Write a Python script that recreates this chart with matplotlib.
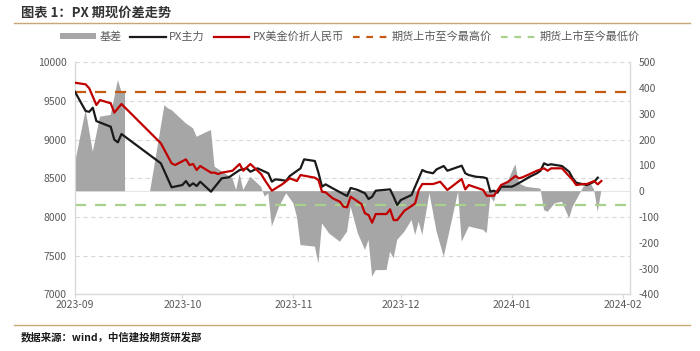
import matplotlib
matplotlib.use("Agg")
import numpy as np
import pandas as pd
import matplotlib.pyplot as plt
import matplotlib.dates as mdates
from matplotlib.lines import Line2D
from matplotlib.patches import Patch

plt.rcParams["font.family"] = ["Noto Sans CJK SC", "DejaVu Sans"]
plt.rcParams["axes.unicode_minus"] = False

# ==================== 数据 ====================
main_dates = ["2023-09-01", "2023-09-04", "2023-09-05", "2023-09-06", "2023-09-07", "2023-09-11",
              "2023-09-12", "2023-09-13", "2023-09-14", "2023-09-25", "2023-09-28", "2023-10-01",
              "2023-10-02", "2023-10-03", "2023-10-04", "2023-10-05", "2023-10-06", "2023-10-09",
              "2023-10-12", "2023-10-14", "2023-10-17", "2023-10-19", "2023-10-20", "2023-10-22",
              "2023-10-25", "2023-10-26", "2023-10-27", "2023-10-30", "2023-10-31", "2023-11-03",
              "2023-11-04", "2023-11-07", "2023-11-08", "2023-11-09", "2023-11-10", "2023-11-12",
              "2023-11-16", "2023-11-17", "2023-11-19", "2023-11-21", "2023-11-22", "2023-11-23",
              "2023-11-24", "2023-11-28", "2023-11-29", "2023-11-30", "2023-12-01", "2023-12-04",
              "2023-12-05", "2023-12-07", "2023-12-08", "2023-12-10", "2023-12-11", "2023-12-13",
              "2023-12-14", "2023-12-18", "2023-12-19", "2023-12-20", "2023-12-22", "2023-12-24",
              "2023-12-25", "2023-12-26", "2023-12-27", "2023-12-28", "2023-12-29", "2024-01-01",
              "2024-01-02", "2024-01-04", "2024-01-06", "2024-01-08", "2024-01-09", "2024-01-10",
              "2024-01-11", "2024-01-12", "2024-01-15", "2024-01-17", "2024-01-18", "2024-01-19",
              "2024-01-21", "2024-01-22", "2024-01-24", "2024-01-25"]
main_px = [9620, 9370, 9360, 9413, 9240, 9167,
           9000, 8965, 9073, 8694, 8384, 8413,
           8465, 8400, 8435, 8400, 8456, 8327,
           8500, 8513, 8607, 8629, 8585, 8629,
           8565, 8456, 8487, 8469, 8530, 8629,
           8745, 8724, 8573, 8392, 8422, 8370,
           8271, 8375, 8349, 8306, 8232, 8262,
           8340, 8357, 8262, 8155, 8219, 8284,
           8392, 8607, 8585, 8565, 8616, 8659,
           8598, 8663, 8565, 8542, 8520, 8513,
           8500, 8327, 8340, 8314, 8392, 8392,
           8413, 8465, 8520, 8565, 8598, 8694,
           8672, 8681, 8659, 8585, 8500, 8443,
           8422, 8413, 8456, 8508]

usd_dates = ["2023-09-01", "2023-09-04", "2023-09-05", "2023-09-07", "2023-09-08", "2023-09-11",
             "2023-09-12", "2023-09-14", "2023-09-25", "2023-09-28", "2023-09-29", "2023-10-02",
             "2023-10-03", "2023-10-04", "2023-10-05", "2023-10-06", "2023-10-09", "2023-10-10",
             "2023-10-11", "2023-10-12", "2023-10-15", "2023-10-17", "2023-10-18", "2023-10-20",
             "2023-10-23", "2023-10-24", "2023-10-26", "2023-10-29", "2023-10-31", "2023-11-02",
             "2023-11-03", "2023-11-07", "2023-11-08", "2023-11-09", "2023-11-10", "2023-11-12",
             "2023-11-14", "2023-11-15", "2023-11-16", "2023-11-17", "2023-11-20", "2023-11-21",
             "2023-11-22", "2023-11-23", "2023-11-24", "2023-11-27", "2023-11-28", "2023-11-29",
             "2023-11-30", "2023-12-02", "2023-12-04", "2023-12-05", "2023-12-06", "2023-12-07",
             "2023-12-10", "2023-12-12", "2023-12-14", "2023-12-18", "2023-12-19", "2023-12-20",
             "2023-12-24", "2023-12-25", "2023-12-27", "2023-12-29", "2023-12-31", "2024-01-02",
             "2024-01-03", "2024-01-04", "2024-01-06", "2024-01-08", "2024-01-10", "2024-01-11",
             "2024-01-12", "2024-01-15", "2024-01-18", "2024-01-19", "2024-01-21", "2024-01-22",
             "2024-01-24", "2024-01-25", "2024-01-26"]
usd_px = [9736, 9715, 9664, 9448, 9512, 9470,
          9349, 9461, 8953, 8694, 8672, 8745,
          8672, 8685, 8607, 8659, 8573, 8573,
          8555, 8573, 8598, 8685, 8598, 8685,
          8555, 8478, 8340, 8426, 8500, 8465,
          8542, 8508, 8478, 8327, 8319, 8241,
          8197, 8133, 8125, 8262, 8168, 8047,
          8025, 7926, 8038, 8038, 8099, 7960,
          7960, 8081, 8142, 8176, 8349, 8426,
          8426, 8456, 8349, 8491, 8357, 8413,
          8349, 8275, 8275, 8413, 8456, 8530,
          8500, 8513, 8555, 8598, 8629, 8598,
          8629, 8629, 8478, 8413, 8426, 8426,
          8465, 8422, 8465]

basis_dates = ["2023-09-01", "2023-09-04", "2023-09-06", "2023-09-08", "2023-09-11", "2023-09-13",
               "2023-09-14", "2023-09-15", "2023-09-18", "2023-09-22", "2023-09-26", "2023-09-27",
               "2023-09-28", "2023-09-29", "2023-09-30", "2023-10-02", "2023-10-04", "2023-10-05",
               "2023-10-06", "2023-10-08", "2023-10-09", "2023-10-10", "2023-10-15", "2023-10-16",
               "2023-10-17", "2023-10-18", "2023-10-20", "2023-10-23", "2023-10-24", "2023-10-25",
               "2023-10-26", "2023-10-28", "2023-10-30", "2023-11-01", "2023-11-02", "2023-11-03",
               "2023-11-07", "2023-11-08", "2023-11-09", "2023-11-11", "2023-11-14", "2023-11-16",
               "2023-11-17", "2023-11-19", "2023-11-21", "2023-11-22", "2023-11-23", "2023-11-24",
               "2023-11-27", "2023-11-28", "2023-11-29", "2023-11-30", "2023-12-02", "2023-12-04",
               "2023-12-05", "2023-12-06", "2023-12-07", "2023-12-09", "2023-12-11", "2023-12-13",
               "2023-12-17", "2023-12-18", "2023-12-20", "2023-12-24", "2023-12-25", "2023-12-26",
               "2023-12-27", "2023-12-28", "2023-12-31", "2024-01-02", "2024-01-03", "2024-01-05",
               "2024-01-09", "2024-01-10", "2024-01-11", "2024-01-13", "2024-01-15", "2024-01-17",
               "2024-01-18", "2024-01-21", "2024-01-23", "2024-01-24", "2024-01-25", "2024-01-26"]
basis = [108, 315, 153, 289, 296, 431,
         386, 380, np.nan, 0, 334, 321,
         315, 302, 289, 263, 244, 211,
         218, 231, 237, 95, 50, 5,
         67, 5, 56, 17, -21, -8,
         -137, -60, -8, -47, -99, -209,
         -215, -280, -125, -164, -196, -157,
         -60, -163, -228, -189, -332, -306,
         -306, -235, -260, -189, -157, -112,
         -170, -118, -170, -8, -157, -254,
         -2, -196, -137, -150, -163, -21,
         -41, 5, 43, 105, 30, 17,
         10, -73, -80, -47, -41, -105,
         -60, 17, 30, 5, -80, 3]

HIGH_PRICE = 9616   # 期货上市至今最高价
LOW_PRICE = 8158    # 期货上市至今最低价

main_dates = pd.to_datetime(main_dates)
usd_dates = pd.to_datetime(usd_dates)
basis_dates = pd.to_datetime(basis_dates)
basis = np.array(basis, dtype=float)

# ==================== 作图 ====================
fig = plt.figure(figsize=(7.0, 3.51), dpi=100)
ax = fig.add_axes([0.107, 0.1615, 0.793, 0.661])   # 左轴：网格+刻度
ax2 = ax.twinx()                                    # 右轴：基差面积
ax3 = ax.twinx()                                    # 左轴刻度的价格线（画在面积上层）
ax.set_zorder(0)
ax2.set_zorder(1)
ax3.set_zorder(2)
ax2.patch.set_visible(False)
ax3.patch.set_visible(False)

GRID_C = "#d9d9d9"
TICK_C = "#595959"

ax.set_ylim(7000, 10000)
ax.set_yticks(range(7000, 10001, 500))
ax.yaxis.grid(True, color=GRID_C, ls=(0, (4, 3)), lw=0.8)
ax.set_axisbelow(True)

# 基差面积（右轴）
ax2.axhline(0, color="#e6e6e6", lw=0.8, zorder=0)
ax2.fill_between(basis_dates, 0, basis, color="#a6a6a6", linewidth=0, zorder=1)
ax2.set_ylim(-400, 500)
ax2.set_yticks(range(-400, 501, 100))

# 价格线
ax3.set_ylim(7000, 10000)
ax3.axhline(HIGH_PRICE, color="#c55a11", lw=1.6, ls=(0, (5, 4)), zorder=2)
ax3.axhline(LOW_PRICE, color="#a9d18e", lw=1.6, ls=(0, (5, 4)), zorder=2)
ax3.plot(main_dates, main_px, color="#1a1a1a", lw=1.6, zorder=3)
ax3.plot(usd_dates, usd_px, color="#c00000", lw=1.6, zorder=4)
ax3.set_yticks([])

ax.set_xlim(pd.Timestamp("2023-09-01"), pd.Timestamp("2024-02-03"))
ax.xaxis.set_major_locator(mdates.MonthLocator())
ax.xaxis.set_major_formatter(mdates.DateFormatter("%Y-%m"))

for a in (ax, ax2, ax3):
    for s in a.spines.values():
        s.set_color(GRID_C)
        s.set_linewidth(0.8)
    a.spines["top"].set_visible(False)
    a.tick_params(colors=TICK_C, labelsize=7.5, length=0)
ax.tick_params(axis="x", length=3, color=GRID_C, pad=1)
ax.tick_params(axis="y", pad=6)
ax2.tick_params(axis="y", pad=6)

# 图例
handles = [
    Patch(facecolor="#a6a6a6", edgecolor="none", label="基差"),
    Line2D([], [], color="#1a1a1a", lw=1.6, label="PX主力"),
    Line2D([], [], color="#c00000", lw=1.6, label="PX美金价折人民币"),
    Line2D([], [], color="#c55a11", lw=1.6, ls=(0, (3, 3)), label="期货上市至今最高价"),
    Line2D([], [], color="#a9d18e", lw=1.6, ls=(0, (3, 3)), label="期货上市至今最低价"),
]
fig.legend(handles=handles, loc="center", bbox_to_anchor=(0.5, 0.895), ncol=5,
           frameon=False, fontsize=8, handlelength=3.2, handleheight=0.5,
           columnspacing=0.8, handletextpad=0.3, labelcolor=TICK_C)

# 标题与来源
fig.text(0.03, 0.965, "图表 1：PX 期现价差走势", fontsize=9.5, fontweight="bold",
         color="#333333", va="center", ha="left")
fig.add_artist(Line2D([0.02, 0.985], [0.935, 0.935], color="#c9a876", lw=1.0))
fig.add_artist(Line2D([0.02, 0.985], [0.075, 0.075], color="#c9a876", lw=1.0))
fig.text(0.03, 0.04, "数据来源：wind，中信建投期货研发部", fontsize=7.5, fontweight="bold",
         style="italic", color="#1a1a1a", va="center", ha="left")

plt.savefig("out.png", dpi=100)
plt.close()
